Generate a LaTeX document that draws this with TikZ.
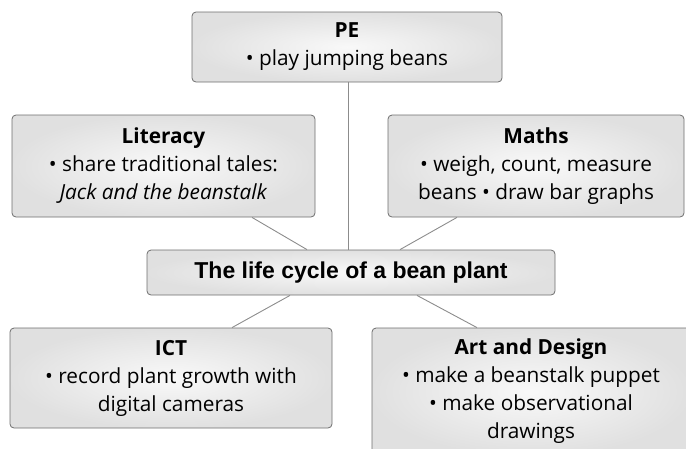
\documentclass[tikz,border=0pt]{standalone}
\usepackage{fontspec}
\setmainfont{Open Sans}
\newfontfamily\heavyfont{Liberation Sans}
\usetikzlibrary{calc}
\definecolor{edgegray}{HTML}{6E6E6E}
\definecolor{linegray}{HTML}{8C8C8C}
\tikzset{
  topic/.style={draw=edgegray, line width=0.8pt, rounded corners=4pt,
    inner color=gray!5, outer color=gray!24, align=center,
    font=\fontsize{20.8}{28}\selectfont, inner sep=0pt},
  link/.style={draw=linegray, line width=0.9pt}
}
\begin{document}
\begin{tikzpicture}[x=1pt,y=-1pt]
\useasboundingbox (0,0) rectangle (686,448);
\node[topic, minimum width=310pt, minimum height=70pt] (pe) at (347,47)
  {\textbf{PE}\\\textbullet\ play jumping beans};
\node[topic, minimum width=303pt, minimum height=102pt] (lit) at (163.5,166)
  {\textbf{Literacy}\\\textbullet\ share traditional tales:\\\textit{Jack and the beanstalk}};
\node[topic, minimum width=296pt, minimum height=102pt] (math) at (536,166)
  {\textbf{Maths}\\\textbullet\ weigh, count, measure\\beans \textbullet\ draw bar graphs};
\node[topic, minimum width=408pt, minimum height=45pt, font=\heavyfont\bfseries\fontsize{23}{26}\selectfont] (hub) at (351,272.5)
  {The life cycle of a bean plant};
\node[topic, minimum width=322pt, minimum height=100pt] (ict) at (171,378)
  {\textbf{ICT}\\\textbullet\ record plant growth with\\digital cameras};
\node[topic, minimum width=318pt, minimum height=127pt] (art) at (531,391.5)
  {\textbf{Art and Design}\\\textbullet\ make a beanstalk puppet\\\textbullet\ make observational\\drawings};
\draw[link] ([xshift=1pt]pe.south) -- ([xshift=-3pt]hub.north);
\draw[link] ([xshift=88.5pt]lit.south) -- ([xshift=-44pt]hub.north);
\draw[link] ([xshift=-79pt]math.south) -- ([xshift=49pt]hub.north);
\draw[link] ([xshift=-61pt]hub.south) -- ([xshift=61pt]ict.north);
\draw[link] ([xshift=66pt]hub.south) -- ([xshift=-54pt]art.north);
\end{tikzpicture}
\end{document}
